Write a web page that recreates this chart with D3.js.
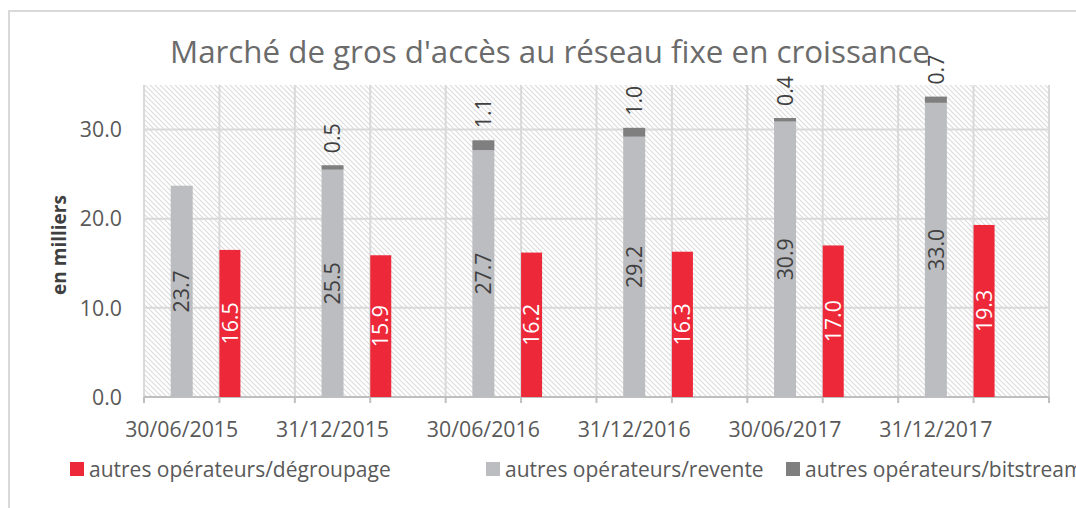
<!DOCTYPE html>
<html><head><meta charset="utf-8">
<script src="https://cdn.jsdelivr.net/npm/d3@7"></script>
<style>html,body{margin:0;padding:0;background:#fff;} svg{display:block;font-family:"Open Sans",sans-serif;}</style>
</head><body>
<script>
const dates = ["30/06/2015","31/12/2015","30/06/2016","31/12/2016","30/06/2017","31/12/2017"];
const revente = [23.7, 25.5, 27.7, 29.2, 30.9, 33.0];
const bitstream = [0, 0.5, 1.1, 1.0, 0.4, 0.7];
const degroupage = [16.5, 15.9, 16.2, 16.3, 17.0, 19.3];
const yTicks = [0, 10, 20, 30];
const seriesNames = ["autres opérateurs/dégroupage","autres opérateurs/revente","autres opérateurs/bitstream"];
const colors = {deg:"#ed2839", rev:"#bcbdc0", bit:"#7f7f7f"};

const W=1076,H=508;
const svg=d3.select("body").append("svg").attr("width",W).attr("height",H);
svg.append("rect").attr("width",W).attr("height",H).attr("fill","#fff");
svg.append("path").attr("d",`M9,${H} L9,11 L${W},11`).attr("fill","none").attr("stroke","#d9d9d9").attr("stroke-width",2);

const defs=svg.append("defs");
const pat=defs.append("pattern").attr("id","hatch").attr("patternUnits","userSpaceOnUse").attr("width",5).attr("height",5);
pat.append("rect").attr("width",5).attr("height",5).attr("fill","#fff");
pat.append("path").attr("d","M-1,-1 L6,6 M-1,4 L1,6 M4,-1 L6,1").attr("stroke","#dcdcdc").attr("stroke-width",1.1);

const x0=144,x1=1049,yTop=85,yBot=397;
const slots=d3.range(dates.length*2);
const x=d3.scaleBand().domain(slots).range([x0,x1]).padding(0);
const y=d3.scaleLinear().domain([0,35]).range([yBot,yTop]);
const bw=x.bandwidth();
const barW=22;

svg.append("rect").attr("x",x0).attr("y",yTop).attr("width",x1-x0).attr("height",yBot-yTop).attr("fill","url(#hatch)");

// gridlines
svg.append("g").selectAll("line").data(yTicks.filter(d=>d>0)).join("line")
  .attr("x1",x0).attr("x2",x1).attr("y1",d=>y(d)).attr("y2",d=>y(d)).attr("stroke","#d9d9d9").attr("stroke-width",2);
const bounds=slots.map(s=>x(s)).concat([x1]);
svg.append("g").selectAll("line").data(bounds).join("line")
  .attr("x1",d=>d).attr("x2",d=>d).attr("y1",yTop).attr("y2",yBot).attr("stroke","#d9d9d9").attr("stroke-width",2);

// x axis
const xa=svg.append("g");
xa.append("line").attr("x1",x0).attr("x2",x1).attr("y1",yBot).attr("y2",yBot).attr("stroke","#bfbfbf").attr("stroke-width",2);
xa.selectAll("line.t").data(bounds).join("line").attr("class","t")
  .attr("x1",d=>d).attr("x2",d=>d).attr("y1",yBot).attr("y2",yBot+6).attr("stroke","#bfbfbf").attr("stroke-width",2);
xa.selectAll("text").data(dates).join("text")
  .attr("x",(d,i)=>x(2*i)+bw/2).attr("y",437).attr("text-anchor","middle")
  .attr("font-size",21.3).attr("fill","#595959").text(d=>d);

// y axis labels
svg.append("g").selectAll("text").data(yTicks).join("text")
  .attr("x",122).attr("y",d=>y(d)).attr("dy","0.36em").attr("text-anchor","end")
  .attr("font-size",21.3).attr("fill","#595959").text(d=>d3.format(".1f")(d));
svg.append("text").attr("transform","translate(66,245) rotate(-90)").attr("text-anchor","middle")
  .attr("font-size",19).attr("font-weight","bold").attr("fill","#404040").text("en milliers");

// bars
const g=svg.append("g");
dates.forEach((d,i)=>{
  const cx=x(2*i)+bw/2;
  g.append("rect").attr("x",cx-barW/2).attr("width",barW).attr("y",y(revente[i])).attr("height",y(0)-y(revente[i])).attr("fill",colors.rev);
  if(bitstream[i]>0){
    g.append("rect").attr("x",cx-barW/2).attr("width",barW).attr("y",y(revente[i]+bitstream[i])).attr("height",y(revente[i])-y(revente[i]+bitstream[i])).attr("fill",colors.bit);
    g.append("text").attr("transform",`translate(${cx},${y(revente[i]+bitstream[i])-12}) rotate(-90)`)
      .attr("dy","0.36em").attr("font-size",21.3).attr("fill","#404040").text(d3.format(".1f")(bitstream[i]));
  }
  g.append("text").attr("transform",`translate(${cx},${(y(0)+y(revente[i]))/2}) rotate(-90)`)
    .attr("text-anchor","middle").attr("dy","0.36em").attr("font-size",21.3).attr("fill","#404040").text(d3.format(".1f")(revente[i]));
  const rx=x(2*i+1);
  g.append("rect").attr("x",rx).attr("width",21).attr("y",y(degroupage[i])).attr("height",y(0)-y(degroupage[i])).attr("fill",colors.deg);
  g.append("text").attr("transform",`translate(${rx+10.5},${(y(0)+y(degroupage[i]))/2}) rotate(-90)`)
    .attr("text-anchor","middle").attr("dy","0.36em").attr("font-size",21.3).attr("fill","#fff").text(d3.format(".1f")(degroupage[i]));
});

// title
svg.append("text").attr("x",550).attr("y",63).attr("text-anchor","middle").attr("font-size",31.3)
  .attr("fill","#6b6b6b").text("Marché de gros d'accès au réseau fixe en croissance");

// legend
const leg=[{n:seriesNames[0],c:colors.deg,x:70},{n:seriesNames[1],c:colors.rev,x:486},{n:seriesNames[2],c:colors.bit,x:786}];
const lg=svg.append("g").selectAll("g").data(leg).join("g").attr("transform",d=>`translate(${d.x},462)`);
lg.append("rect").attr("width",14).attr("height",14).attr("fill",d=>d.c);
lg.append("text").attr("x",19).attr("y",7).attr("dy","0.36em").attr("font-size",21).attr("fill","#595959").text(d=>d.n);
</script>
</body></html>
